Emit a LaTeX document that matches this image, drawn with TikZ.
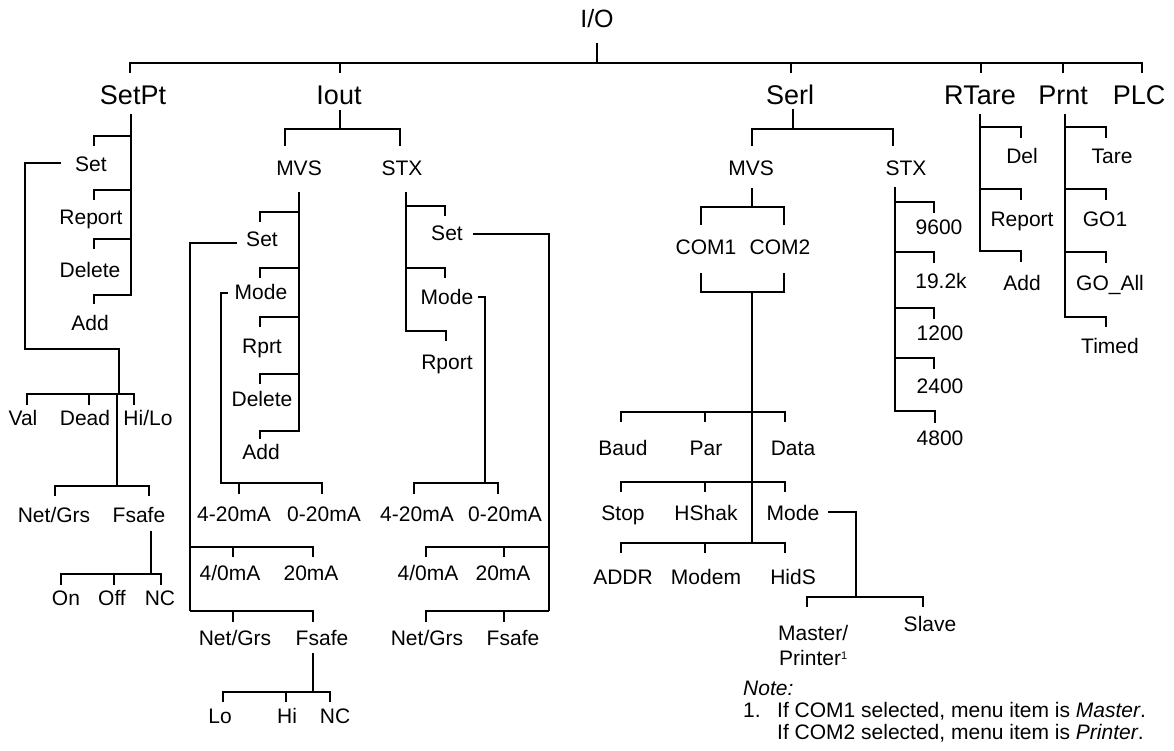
\documentclass[tikz,border=0pt]{standalone}
\usepackage{fontspec}
\setmainfont{Liberation Sans}
\begin{document}
\begin{tikzpicture}[x=1pt,y=-1pt,
  ln/.style={line width=1.8pt},
  big/.style={font=\fontsize{27}{27}\selectfont, text height=19.5pt, text depth=0pt, inner sep=0pt},
  io/.style={font=\fontsize{25}{25}\selectfont, text height=18pt, text depth=0pt, inner sep=0pt},
  sm/.style={font=\fontsize{21}{21}\selectfont, text height=15pt, text depth=0pt, inner sep=0pt}]
\useasboundingbox (0,0) rectangle (1174,751);
% ---------- top level ----------
\node[io] (IO) at (597,19) {I/O};
\node[big] (SetPt) at (133,95) {SetPt};
\node[big] (Iout) at (339,95) {Iout};
\node[big] (Serl) at (790,95) {Serl};
\node[big] (RTare) at (980,95) {RTare};
\node[big] (Prnt) at (1063,95) {Prnt};
\node[big] (PLC) at (1139,95) {PLC};
\draw[ln] (597,43) -- (597,63);
\draw[ln] (130,73) -- (130,63) -- (1142,63) -- (1142,73);
\foreach \x in {340,791,981,1063} \draw[ln] (\x,63) -- (\x,73);
% ---------- SetPt ----------
\node[sm] (sSet) at (91,164) {Set};
\node[sm] (sReport) at (91,217) {Report};
\node[sm] (sDelete) at (90,270) {Delete};
\node[sm] (sAdd) at (90,323) {Add};
\draw[ln] (131,114) -- (131,295) -- (94,295) -- (94,304);
\foreach \y in {136,190,239} \draw[ln] (131,\y) -- (94,\y) -- (94,\y+10);
\draw[ln] (61,163) -- (25,163) -- (25,349) -- (119,349) -- (119,394);
\node[sm] (sVal) at (23,418) {Val};
\node[sm] (sDead) at (85,418) {Dead};
\node[sm] (sHiLo) at (148,418) {Hi/Lo};
\draw[ln] (27,405) -- (27,394) -- (134,394) -- (134,405);
\draw[ln] (89,394) -- (89,405);
\draw[ln] (117,394) -- (117,486);
\node[sm] (sNet) at (54,515) {Net/Grs};
\node[sm] (sFsafe) at (139,515) {Fsafe};
\draw[ln] (55,496) -- (55,486) -- (149,486) -- (149,496);
\draw[ln] (151,531) -- (151,574);
\draw[ln] (61,585) -- (61,574) -- (161,574) -- (161,585);
\draw[ln] (114,574) -- (114,585);
\node[sm] (sOn) at (66,598) {On};
\node[sm] (sOff) at (112,598) {Off};
\node[sm] (sNC) at (160,598) {NC};
% ---------- Iout ----------
\draw[ln] (340,110) -- (340,129);
\draw[ln] (285,146) -- (285,129) -- (400,129) -- (400,146);
\node[sm] (iMVS) at (299,168) {MVS};
\node[sm] (iSTX) at (402,168) {STX};
% MVS
\draw[ln] (299,192) -- (299,431) -- (260,431) -- (260,439);
\foreach \y in {212,268,317,374} \draw[ln] (299,\y) -- (260,\y) -- (260,\y+10);
\node[sm] (imSet) at (262,239) {Set};
\node[sm] (imMode) at (261,292) {Mode};
\node[sm] (imRprt) at (262,346) {Rprt};
\node[sm] (imDelete) at (262,399) {Delete};
\node[sm] (imAdd) at (261,452) {Add};
\draw[ln] (237,243) -- (190,243) -- (190,611);
\draw[ln] (228,293) -- (221,293) -- (221,483) -- (322,483) -- (322,494);
\draw[ln] (239,483) -- (239,494);
\node[sm] (im420) at (234,514) {4-20mA};
\node[sm] (im020) at (324,514) {0-20mA};
\draw[ln] (190,547) -- (313,547) -- (313,557);
\draw[ln] (233,547) -- (233,557);
\draw[ln] (190,611) -- (313,611) -- (313,622);
\draw[ln] (233,611) -- (233,622);
\node[sm] (im40) at (230,573) {4/0mA};
\node[sm] (im20) at (311,573) {20mA};
\node[sm] (imNet) at (235,638) {Net/Grs};
\node[sm] (imFsafe) at (322,638) {Fsafe};
\draw[ln] (313,653) -- (313,692);
\draw[ln] (223,702) -- (223,692) -- (330,692) -- (330,702);
\draw[ln] (286,692) -- (286,702);
\node[sm] (imLo) at (220,716) {Lo};
\node[sm] (imHi) at (287,716) {Hi};
\node[sm] (imNC) at (335,716) {NC};
% STX
\draw[ln] (406,192) -- (406,331) -- (446,331) -- (446,341);
\foreach \y in {206,268} \draw[ln] (406,\y) -- (445,\y) -- (445,\y+10);
\node[sm] (isSet) at (447,233) {Set};
\node[sm] (isMode) at (447,297) {Mode};
\node[sm] (isRport) at (447,362) {Rport};
\draw[ln] (473,234) -- (549,234) -- (549,611);
\draw[ln] (478,297) -- (485,297) -- (485,483);
\draw[ln] (414,494) -- (414,483) -- (498,483) -- (498,494);
\node[sm] (is420) at (417,514) {4-20mA};
\node[sm] (is020) at (505,514) {0-20mA};
\draw[ln] (549,547) -- (426,547) -- (426,557);
\draw[ln] (504,547) -- (504,557);
\draw[ln] (549,611) -- (426,611) -- (426,622);
\draw[ln] (504,611) -- (504,622);
\node[sm] (is40) at (428,573) {4/0mA};
\node[sm] (is20) at (503,573) {20mA};
\node[sm] (isNet) at (427,638) {Net/Grs};
\node[sm] (isFsafe) at (513,638) {Fsafe};
% ---------- Serl ----------
\draw[ln] (793,109) -- (793,129);
\draw[ln] (752,146) -- (752,129) -- (893,129) -- (893,146);
\node[sm] (sMVS) at (751,168) {MVS};
\node[sm] (sSTX) at (906,168) {STX};
\draw[ln] (752,188) -- (752,207);
\draw[ln] (701,225) -- (701,207) -- (784,207) -- (784,225);
\node[sm] (COM1) at (706,247) {COM1};
\node[sm] (COM2) at (780,247) {COM2};
\draw[ln] (701,273) -- (701,292) -- (784,292) -- (784,273);
\draw[ln] (752,292) -- (752,543);
\foreach \y in {412,482,543} {
  \draw[ln] (621,\y+10) -- (621,\y) -- (785,\y) -- (785,\y+10);
  \draw[ln] (705,\y) -- (705,\y+10);
}
\node[sm] (Baud) at (623,448) {Baud};
\node[sm] (Par) at (706,448) {Par};
\node[sm] (Data) at (793,448) {Data};
\node[sm] (Stop) at (623,513) {Stop};
\node[sm] (HShak) at (706,513) {HShak};
\node[sm] (sMode) at (793,513) {Mode};
\node[sm] (ADDR) at (623,577) {ADDR};
\node[sm] (Modem) at (706,577) {Modem};
\node[sm] (HidS) at (793,577) {HidS};
\draw[ln] (828,512) -- (856,512) -- (856,597);
\draw[ln] (807,607) -- (807,597) -- (923,597) -- (923,607);
\node[sm, anchor=west] (Master) at (778,633) {Master/};
\node[sm, anchor=west] (Printer) at (779,658) {Printer\raisebox{0.55ex}{\fontsize{11}{11}\selectfont 1}};
\node[sm] (Slave) at (930,624) {Slave};
% Serl STX
\draw[ln] (895,187) -- (895,411) -- (935,411) -- (935,423);
\foreach \y in {202,252,308,358} \draw[ln] (895,\y) -- (934,\y) -- (934,\y+11);
\node[sm] (b9600) at (939,227) {9600};
\node[sm] (b192) at (941,281) {19.2k};
\node[sm] (b1200) at (940,333) {1200};
\node[sm] (b2400) at (940,386) {2400};
\node[sm] (b4800) at (940,438) {4800};
% ---------- RTare ----------
\draw[ln] (980,114) -- (980,251) -- (1021,251) -- (1021,262);
\foreach \y in {127,189} \draw[ln] (980,\y) -- (1021,\y) -- (1021,\y+11);
\node[sm] (rDel) at (1022,156) {Del};
\node[sm] (rReport) at (1022,219) {Report};
\node[sm] (rAdd) at (1022,283) {Add};
% ---------- Prnt ----------
\draw[ln] (1065,114) -- (1065,317) -- (1106,317) -- (1106,327);
\foreach \y in {127,189,252} \draw[ln] (1065,\y) -- (1106,\y) -- (1106,\y+11);
\node[sm] (pTare) at (1112,156) {Tare};
\node[sm] (pGO1) at (1105,219) {GO1};
\node[sm] (pGOAll) at (1110,283) {GO\_All};
\node[sm] (pTimed) at (1110,346) {Timed};
% ---------- Note ----------
\node[sm, anchor=west] (Note) at (743,688) {\itshape Note:};
\node[sm, anchor=west] (N1) at (743,710) {1.};
\node[sm, anchor=west] (N1a) at (777,710) {If COM1 selected, menu item is \textit{Master}.};
\node[sm, anchor=west] (N1b) at (777,732) {If COM2 selected, menu item is \textit{Printer}.};
\end{tikzpicture}
\end{document}
